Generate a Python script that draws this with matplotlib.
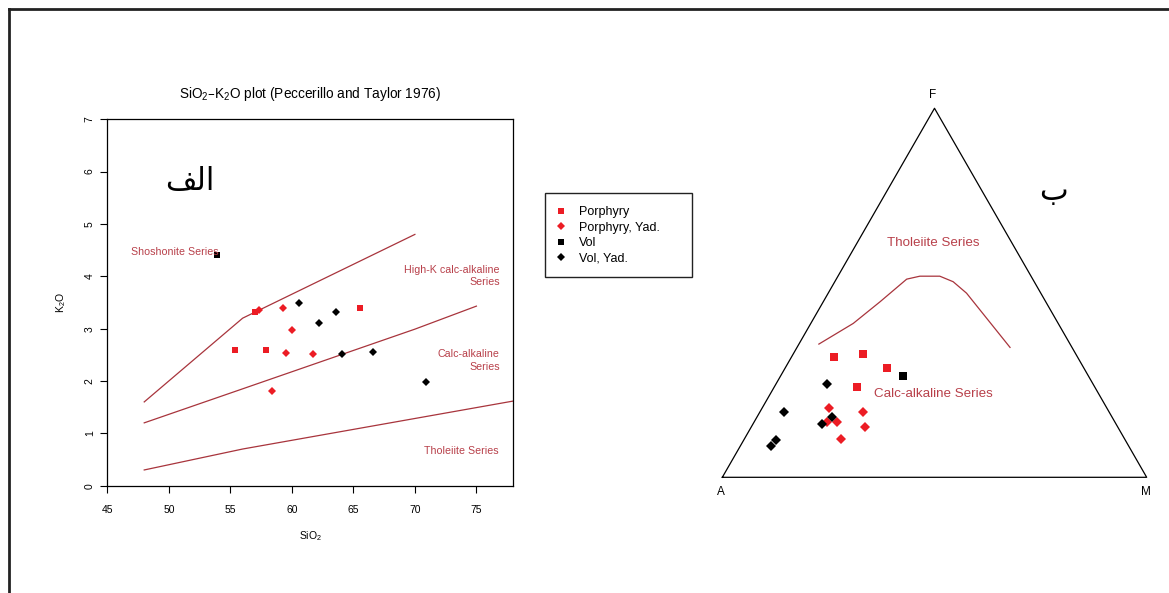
import matplotlib
matplotlib.use("Agg")
import matplotlib.pyplot as plt
import numpy as np
from matplotlib.lines import Line2D
from matplotlib.patches import Rectangle

plt.rcParams["font.family"] = ["Liberation Sans", "DejaVu Sans"]
plt.rcParams["mathtext.default"] = "regular"

# Left plot: SiO2 vs K2O
por_sio2 = [55.4, 57.9, 57.0, 65.5]
por_k2o = [2.60, 2.60, 3.31, 3.39]
pory_sio2 = [57.3, 59.3, 60.0, 59.5, 61.7, 58.4]
pory_k2o = [3.36, 3.39, 2.98, 2.53, 2.51, 1.81]
vol_sio2 = [53.95]
vol_k2o = [4.41]
voly_sio2 = [60.6, 62.2, 63.6, 64.1, 66.6, 70.9]
voly_k2o = [3.49, 3.10, 3.31, 2.52, 2.56, 1.98]

# Series boundaries (Peccerillo and Taylor 1976)
shosh_x = [48, 56, 70]
shosh_y = [1.6, 3.2, 4.8]
highk_x = [48, 56, 63, 70, 75]
highk_y = [1.2, 1.85, 2.42, 2.99, 3.43]
thol_x = [48, 56, 80]
thol_y = [0.3, 0.7, 1.7]

# Right plot: AFM (A, F, M in %)
por_afm = [(57.5, 32.6, 9.9), (50.2, 33.3, 16.5), (46.3, 29.7, 24.0), (55.9, 24.6, 19.5)]
pory_afm = [(65.6, 18.7, 15.7), (57.9, 17.8, 24.3), (67.8, 14.9, 17.3),
            (65.6, 14.9, 19.5), (59.5, 13.7, 26.8), (66.8, 10.4, 22.8)]
vol_afm = [(43.8, 27.4, 28.8)]
voly_afm = [(62.6, 25.3, 12.1), (76.5, 17.8, 5.7), (66.0, 16.3, 17.7),
            (69.3, 14.4, 16.3), (82.3, 10.0, 7.7), (84.2, 8.6, 7.2)]
afm_curve = [(59.2, 36.1, 4.7), (48.3, 41.7, 10.0), (39.0, 47.6, 13.4), (29.7, 53.7, 16.6),
             (26.2, 54.5, 19.3), (21.5, 54.5, 24.0), (19.1, 53.0, 27.9), (17.5, 49.9, 32.6),
             (14.6, 35.2, 50.2)]

labels = ["Porphyry", "Porphyry, Yad.", "Vol", "Vol, Yad."]

red = "#EC1C24"
line_col = "#A8343C"
text_col = "#B8404A"


def to_xy(afm):
    a = np.array(afm, dtype=float) / 100.0
    f = a[:, 1]
    m = a[:, 2]
    return m + f / 2, f * np.sqrt(3) / 2


fig = plt.figure(figsize=(11.69, 5.93), dpi=100)

# ---- left axes ----
ax = fig.add_axes([0.0918, 0.181, 0.3473, 0.6179])
ax.plot(shosh_x, shosh_y, color=line_col, lw=0.9)
ax.plot(highk_x, highk_y, color=line_col, lw=0.9)
ax.plot(thol_x, thol_y, color=line_col, lw=0.9)

ax.plot(por_sio2, por_k2o, "s", color=red, ms=4, mew=0)
ax.plot(pory_sio2, pory_k2o, "D", color=red, ms=4, mew=0)
ax.plot(vol_sio2, vol_k2o, "s", color="black", ms=4, mew=0)
ax.plot(voly_sio2, voly_k2o, "D", color="black", ms=4, mew=0)

ax.set_xlim(45, 78)
ax.set_ylim(0, 7)
ax.set_xticks([45, 50, 55, 60, 65, 70, 75])
ax.set_yticks(range(0, 8))
ax.tick_params(labelsize=7.5, length=5, width=0.8)
ax.tick_params(axis="x", pad=9)
ax.tick_params(axis="y", labelrotation=90, pad=4)
for lab in ax.get_yticklabels():
    lab.set_va("center")
for sp in ax.spines.values():
    sp.set_linewidth(0.9)
ax.set_xlabel("SiO$_2$", fontsize=7.5, labelpad=10)
ax.set_ylabel("K$_2$O", fontsize=7.5, labelpad=12)
ax.set_title("SiO$_2$\u2013K$_2$O plot (Peccerillo and Taylor 1976)", fontsize=9.8, pad=15)

ax.text(46.9, 4.47, "Shoshonite Series", color=text_col, fontsize=7.7, va="center", ha="left")
ax.text(76.9, 4.0, "High-K calc-alkaline\nSeries", color=text_col, fontsize=7.7,
        va="center", ha="right", multialignment="right", linespacing=1.25)
ax.text(76.9, 2.39, "Calc-alkaline\nSeries", color=text_col, fontsize=7.7,
        va="center", ha="right", multialignment="right", linespacing=1.35)
ax.text(76.8, 0.67, "Tholeiite Series", color=text_col, fontsize=7.7, va="center", ha="right")
ax.text(51.7, 5.81, "\ufed2\ufedf\ufe8d", family="DejaVu Sans", fontsize=22,
        ha="center", va="center")

# ---- right axes: AFM triangle ----
tx = fig.add_axes([0.6179, 0.1951, 0.3630, 0.6223])
tx.set_xlim(0, 1)
tx.set_ylim(0, np.sqrt(3) / 2)
tx.axis("off")
tx.plot([0, 1, 0.5, 0], [0, 0, np.sqrt(3) / 2, 0], color="black", lw=0.9, clip_on=False)

cx, cy = to_xy(afm_curve)
tx.plot(cx, cy, color=line_col, lw=0.9)
for pts, mk, col, ms in [(por_afm, "s", red, 5.2), (pory_afm, "D", red, 4.6),
                         (vol_afm, "s", "black", 5.2), (voly_afm, "D", "black", 4.6)]:
    px, py = to_xy(pts)
    tx.plot(px, py, mk, color=col, ms=ms, mew=0, clip_on=False)

tx.text(0.497, 0.5497, "Tholeiite Series", color=text_col, fontsize=9.6, ha="center", va="center")
tx.text(0.497, 0.196, "Calc-alkaline Series", color=text_col, fontsize=9.6, ha="center", va="center")
tx.text(0.496, 0.898, "F", fontsize=8.5, ha="center", va="center", clip_on=False)
tx.text(-0.004, -0.035, "A", fontsize=8.5, ha="center", va="center", clip_on=False)
tx.text(0.998, -0.035, "M", fontsize=8.5, ha="center", va="center", clip_on=False)
tx.text(0.7816, 0.670, "\u0628", family="DejaVu Sans", fontsize=22, ha="center", va="center")

# ---- legend ----
handles = [Line2D([], [], ls="none", marker="s", color=red, ms=4.5, mew=0),
           Line2D([], [], ls="none", marker="D", color=red, ms=4, mew=0),
           Line2D([], [], ls="none", marker="s", color="black", ms=4.5, mew=0),
           Line2D([], [], ls="none", marker="D", color="black", ms=4, mew=0)]
fig.legend(handles, labels, loc="upper left", bbox_to_anchor=(545 / 1169, 1 - 197 / 593),
           frameon=False, fontsize=9, handlelength=1.0, handletextpad=1.0,
           labelspacing=0.27, borderpad=0.75, borderaxespad=0)
fig.add_artist(Rectangle((545 / 1169, 1 - 277.3 / 593), 147.3 / 1169, 84.6 / 593,
                         transform=fig.transFigure, fill=False, ec="#222222", lw=1.0))

# ---- outer frame ----
fig.add_artist(Line2D([9 / 1169, 1.0], [1 - 9 / 593, 1 - 9 / 593], transform=fig.transFigure,
                      color="#222222", lw=2))
fig.add_artist(Line2D([9 / 1169, 9 / 1169], [0, 1 - 9 / 593], transform=fig.transFigure,
                      color="#222222", lw=2))

fig.savefig("out.png", dpi=100)
